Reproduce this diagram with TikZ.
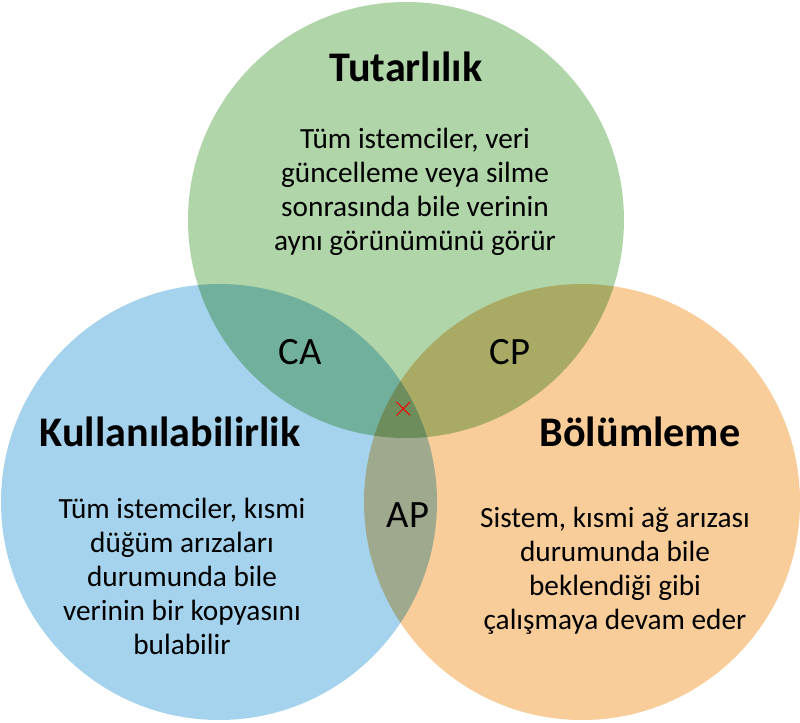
\documentclass[tikz,border=0pt]{standalone}
\usepackage{fontspec}
\setmainfont{Carlito}
\definecolor{tgreen}{HTML}{9CCB94}
\definecolor{tblue}{HTML}{8EC8EA}
\definecolor{torange}{HTML}{F6C07F}
\tikzset{
    set/.style={circle, minimum size=436*0.03cm, fill opacity=0.8},
    title/.style={font=\fontsize{36}{40}\selectfont\bfseries},
    body/.style={font=\fontsize{25}{29}\selectfont, align=center},
    pair/.style={font=\fontsize{33}{36}\selectfont}
}
\begin{document}
\begin{tikzpicture}[x=0.03cm, y=-0.03cm]
    \useasboundingbox (0,0) rectangle (800,723);
    \begin{scope}[blend group=multiply]
        \node[set, fill=tgreen] (cons) at (406,220) {};
        \node[set, fill=tblue] (avail) at (219,502) {};
        \node[set, fill=torange] (part) at (582,502) {};
    \end{scope}

    \node[title] (tcons) at (406,67) {Tutarlılık};
    \node[body] (bcons) at (415,192) {Tüm istemciler, veri\\güncelleme veya silme\\sonrasında bile verinin\\aynı görünümünü görür};
    \node[title] (tavail) at (170,432) {Kullanılabilirlik};
    \node[body] (bavail) at (182,576) {Tüm istemciler, kısmi\\düğüm arızaları\\durumunda bile\\verinin bir kopyasını\\bulabilir};
    \node[title] (tpart) at (640,432) {Bölümleme};
    \node[body] (bpart) at (615,571) {Sistem, kısmi ağ arızası\\durumunda bile\\beklendiği gibi\\çalışmaya devam eder};

    \node[pair] (ca) at (300,352) {CA};
    \node[pair] (cp) at (510,352) {CP};
    \node[pair] (ap) at (408,515) {AP};
    \node[text=red, font=\fontsize{48}{48}\selectfont] (none) at (404,409) {$\times$};
\end{tikzpicture}
\end{document}
